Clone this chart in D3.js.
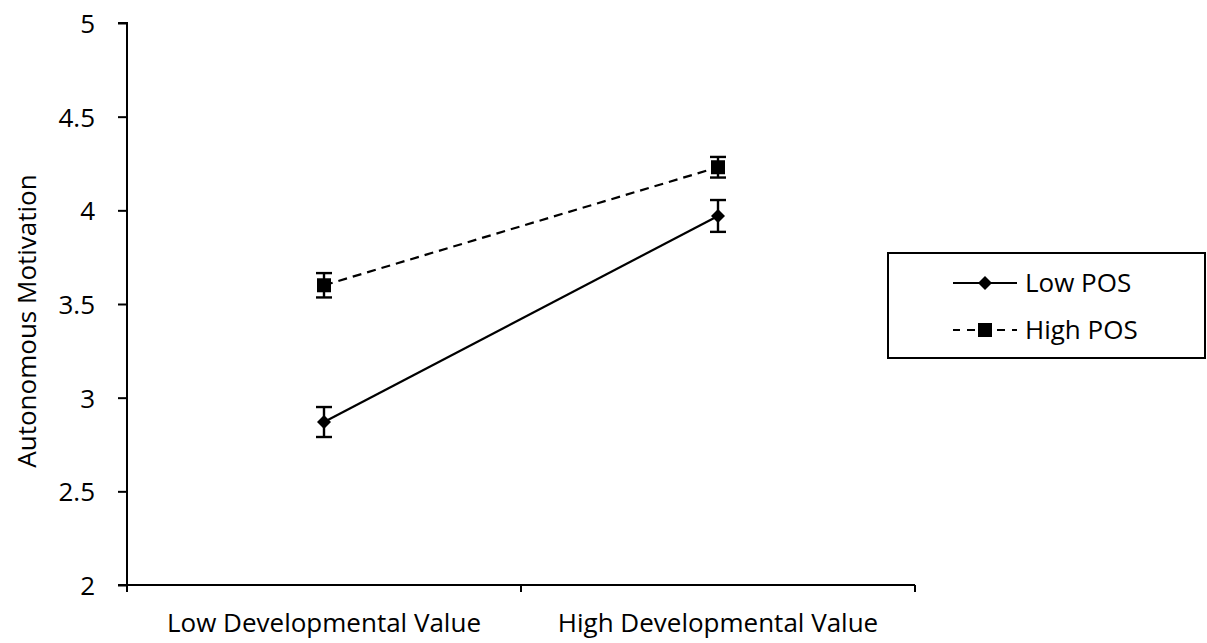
<!DOCTYPE html>
<html>
<head>
<meta charset="utf-8">
<script src="https://cdn.jsdelivr.net/npm/d3@7"></script>
<style>
  html, body { margin: 0; padding: 0; background: #fff; }
  svg text { font-family: "Open Sans", Lato, sans-serif; fill: #000; }
</style>
</head>
<body>
<svg id="chart" width="1207" height="643"></svg>
<script>
// Categories along the x axis
const categories = ["Low Developmental Value", "High Developmental Value"];
// Series names
const seriesNames = ["Low POS", "High POS"];
// Means per category, per series
const lowPOS = [2.87, 3.97];
const highPOS = [3.60, 4.23];
// Error bar half-widths (standard error)
const lowPOSErr = [0.08, 0.085];
const highPOSErr = [0.065, 0.055];
// Y axis ticks
const yTicks = [2, 2.5, 3, 3.5, 4, 4.5, 5];
const yTitle = "Autonomous Motivation";

const svg = d3.select("#chart");
const margin = { left: 127, right: 292, top: 23, bottom: 58 };
const W = 1207, H = 643;
const FONT = 26;

const x = d3.scalePoint()
  .domain(categories)
  .range([margin.left, W - margin.right])
  .padding(0.5);

const xBand = d3.scaleBand()
  .domain(categories)
  .range([margin.left, W - margin.right]);

const y = d3.scaleLinear()
  .domain([2, 5])
  .range([H - margin.bottom, margin.top]);

// Y axis
const yAxis = svg.append("g")
  .attr("transform", `translate(${margin.left},0)`)
  .call(d3.axisLeft(y).tickValues(yTicks).tickSize(9).tickPadding(23)
    .tickFormat(d => d3.format("")(d)));
yAxis.select(".domain").attr("stroke", "#000").attr("stroke-width", 2)
  .attr("d", `M-9,${y(5)}H0V${y(2)}H-9`);
yAxis.selectAll(".tick line").attr("stroke", "#000").attr("stroke-width", 2);
yAxis.selectAll(".tick text").attr("font-size", FONT).attr("dy", "0.36em")
  .style("font-family", "'Open Sans', sans-serif");

// X axis: ticks fall on band boundaries, labels under band centres
const xAxisG = svg.append("g").attr("transform", `translate(0,${y(2)})`);
xAxisG.append("line")
  .attr("x1", margin.left).attr("x2", W - margin.right)
  .attr("stroke", "#000").attr("stroke-width", 2);
const boundaries = categories.map(c => xBand(c)).concat([xBand.range()[1]]);
xAxisG.selectAll("line.tk").data(boundaries).join("line")
  .attr("class", "tk")
  .attr("x1", d => d).attr("x2", d => d)
  .attr("y1", 0).attr("y2", 7)
  .attr("stroke", "#000").attr("stroke-width", 2);
xAxisG.selectAll("text").data(categories).join("text")
  .attr("x", d => x(d)).attr("y", 47)
  .attr("text-anchor", "middle")
  .attr("font-size", FONT)
  .text(d => d);

// Y axis title
svg.append("text")
  .attr("transform", `translate(36,${(y(2) + y(5)) / 2 + 17}) rotate(-90)`)
  .attr("text-anchor", "middle")
  .attr("font-size", FONT)
  .text(yTitle);

// Series definitions
const series = [
  { name: seriesNames[0], values: lowPOS, err: lowPOSErr, dash: null, symbol: "diamond" },
  { name: seriesNames[1], values: highPOS, err: highPOSErr, dash: "9,6", symbol: "square" }
];

function drawMarker(g, type, cx, cy) {
  if (type === "diamond") {
    g.append("path")
      .attr("d", `M${cx},${cy - 7}L${cx + 7},${cy}L${cx},${cy + 7}L${cx - 7},${cy}Z`)
      .attr("fill", "#000");
  } else {
    g.append("rect")
      .attr("x", cx - 7).attr("y", cy - 7)
      .attr("width", 14).attr("height", 14)
      .attr("fill", "#000");
  }
}

const line = d3.line().x(d => x(d.c)).y(d => y(d.v));

series.forEach(s => {
  const pts = categories.map((c, i) => ({ c, v: s.values[i], e: s.err[i] }));
  const g = svg.append("g");
  g.append("path")
    .datum(pts)
    .attr("d", line)
    .attr("fill", "none")
    .attr("stroke", "#000")
    .attr("stroke-width", 2.2)
    .attr("stroke-dasharray", s.dash);
  // error bars
  pts.forEach(p => {
    const cx = x(p.c);
    const eb = g.append("g").attr("stroke", "#000").attr("stroke-width", 2.4);
    eb.append("line").attr("x1", cx).attr("x2", cx)
      .attr("y1", y(p.v + p.e)).attr("y2", y(p.v - p.e));
    eb.append("line").attr("x1", cx - 8).attr("x2", cx + 8)
      .attr("y1", y(p.v + p.e)).attr("y2", y(p.v + p.e));
    eb.append("line").attr("x1", cx - 8).attr("x2", cx + 8)
      .attr("y1", y(p.v - p.e)).attr("y2", y(p.v - p.e));
    drawMarker(g, s.symbol, cx, y(p.v));
  });
});

// Legend
const legend = svg.append("g");
legend.append("rect")
  .attr("x", 888).attr("y", 253).attr("width", 317).attr("height", 105)
  .attr("fill", "#fff").attr("stroke", "#000").attr("stroke-width", 2);
series.forEach((s, i) => {
  const ly = 283 + i * 47;
  const lg = legend.append("g");
  lg.append("line")
    .attr("x1", 953).attr("x2", 1017).attr("y1", ly).attr("y2", ly)
    .attr("stroke", "#000").attr("stroke-width", 2.2)
    .attr("stroke-dasharray", s.dash ? "8,7" : null)
    .attr("stroke-dashoffset", s.dash ? 1 : null);
  drawMarker(lg, s.symbol, 985, ly);
  lg.append("text")
    .attr("x", 1025).attr("y", ly).attr("dy", "0.36em")
    .attr("font-size", FONT)
    .text(s.name);
});
</script>
</body>
</html>
